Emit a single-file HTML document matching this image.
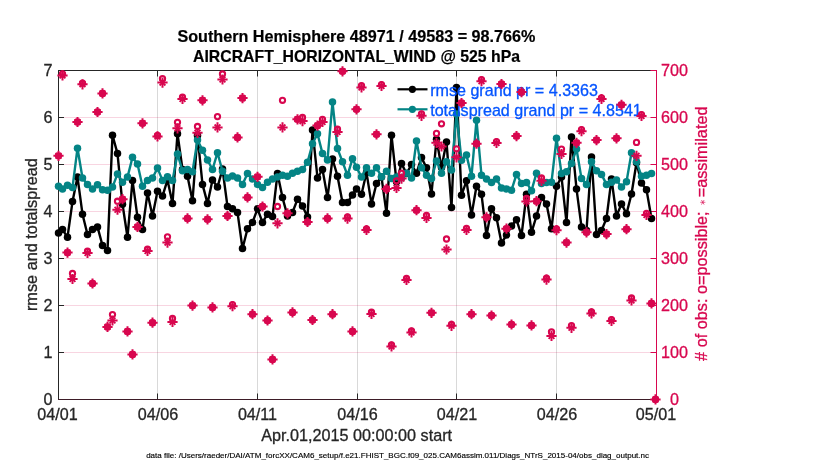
<!DOCTYPE html><html><head><meta charset="utf-8"><title>plot</title>
<style>html,body{margin:0;padding:0;background:#fff}svg{display:block;will-change:transform}text{font-family:"Liberation Sans",sans-serif}</style></head><body>
<svg width="830" height="470" viewBox="0 0 830 470">
<rect width="830" height="470" fill="#fff"/>
<g stroke="#000" stroke-opacity="0.15" stroke-width="1">
<line x1="157.5" y1="70.5" x2="157.5" y2="399.5"/>
<line x1="257.5" y1="70.5" x2="257.5" y2="399.5"/>
<line x1="357.5" y1="70.5" x2="357.5" y2="399.5"/>
<line x1="456.5" y1="70.5" x2="456.5" y2="399.5"/>
<line x1="556.5" y1="70.5" x2="556.5" y2="399.5"/>
</g>
<g stroke="#d8074f" stroke-opacity="0.17" stroke-width="1">
<line x1="58.5" y1="352.5" x2="656.5" y2="352.5"/>
<line x1="58.5" y1="305.5" x2="656.5" y2="305.5"/>
<line x1="58.5" y1="258.5" x2="656.5" y2="258.5"/>
<line x1="58.5" y1="211.5" x2="656.5" y2="211.5"/>
<line x1="58.5" y1="164.5" x2="656.5" y2="164.5"/>
<line x1="58.5" y1="117.5" x2="656.5" y2="117.5"/>
</g>
<g stroke="#262626" stroke-width="1" fill="none">
<line x1="58.5" y1="70.0" x2="58.5" y2="400.0"/>
<line x1="58.0" y1="70.5" x2="657.0" y2="70.5"/>
<line x1="58.5" y1="399.5" x2="64.0" y2="399.5"/>
<line x1="58.5" y1="352.5" x2="64.0" y2="352.5"/>
<line x1="58.5" y1="305.5" x2="64.0" y2="305.5"/>
<line x1="58.5" y1="258.5" x2="64.0" y2="258.5"/>
<line x1="58.5" y1="211.5" x2="64.0" y2="211.5"/>
<line x1="58.5" y1="164.5" x2="64.0" y2="164.5"/>
<line x1="58.5" y1="117.5" x2="64.0" y2="117.5"/>
<line x1="58.5" y1="70.5" x2="64.0" y2="70.5"/>
<line x1="157.5" y1="399.5" x2="157.5" y2="393.5"/>
<line x1="157.5" y1="70.5" x2="157.5" y2="76.5"/>
<line x1="257.5" y1="399.5" x2="257.5" y2="393.5"/>
<line x1="257.5" y1="70.5" x2="257.5" y2="76.5"/>
<line x1="357.5" y1="399.5" x2="357.5" y2="393.5"/>
<line x1="357.5" y1="70.5" x2="357.5" y2="76.5"/>
<line x1="456.5" y1="399.5" x2="456.5" y2="393.5"/>
<line x1="456.5" y1="70.5" x2="456.5" y2="76.5"/>
<line x1="556.5" y1="399.5" x2="556.5" y2="393.5"/>
<line x1="556.5" y1="70.5" x2="556.5" y2="76.5"/>
</g>
<line x1="58.0" y1="399.5" x2="657.0" y2="399.5" stroke="#3d1b27" stroke-width="1"/>
<g stroke="#d8074f" stroke-width="1">
<line x1="656.5" y1="70.0" x2="656.5" y2="400.0"/>
<line x1="656.5" y1="399.5" x2="650.5" y2="399.5"/>
<line x1="656.5" y1="352.5" x2="650.5" y2="352.5"/>
<line x1="656.5" y1="305.5" x2="650.5" y2="305.5"/>
<line x1="656.5" y1="258.5" x2="650.5" y2="258.5"/>
<line x1="656.5" y1="211.5" x2="650.5" y2="211.5"/>
<line x1="656.5" y1="164.5" x2="650.5" y2="164.5"/>
<line x1="656.5" y1="117.5" x2="650.5" y2="117.5"/>
<line x1="656.5" y1="70.5" x2="650.5" y2="70.5"/>
</g>
<g font-size="16.15" fill="#262626" stroke="#262626" stroke-width="0.3" text-anchor="end">
<text x="52.6" y="405.2">0</text>
<text x="52.6" y="358.2">1</text>
<text x="52.6" y="311.2">2</text>
<text x="52.6" y="264.2">3</text>
<text x="52.6" y="217.2">4</text>
<text x="52.6" y="170.2">5</text>
<text x="52.6" y="123.2">6</text>
<text x="52.6" y="76.2">7</text>
</g>
<g font-size="16.15" fill="#262626" stroke="#262626" stroke-width="0.3" text-anchor="middle">
<text x="57.5" y="420">04/01</text>
<text x="158" y="420">04/06</text>
<text x="257.5" y="420">04/11</text>
<text x="357.5" y="420">04/16</text>
<text x="457" y="420">04/21</text>
<text x="557" y="420">04/26</text>
<text x="656" y="420">05/01</text>
</g>
<g font-size="16.15" fill="#d8074f" stroke="#d8074f" stroke-width="0.3" text-anchor="middle">
<text x="674.5" y="405.2">0</text>
<text x="674.5" y="358.2">100</text>
<text x="674.5" y="311.2">200</text>
<text x="674.5" y="264.2">300</text>
<text x="674.5" y="217.2">400</text>
<text x="674.5" y="170.2">500</text>
<text x="674.5" y="123.2">600</text>
<text x="674.5" y="76.2">700</text>
</g>
<g font-size="16.1" font-weight="bold" fill="#000" stroke="#000" stroke-width="0.2" text-anchor="middle">
<text x="356.4" y="41.6" font-size="16.16">Southern Hemisphere 48971 / 49583 = 98.766%</text>
<text x="356.5" y="61.5" font-size="15.82">AIRCRAFT_HORIZONTAL_WIND @ 525 hPa</text>
</g>
<text font-size="16.3" fill="#262626" stroke="#262626" stroke-width="0.3" text-anchor="middle" transform="translate(36.6,234.6) rotate(-90)">rmse and totalspread</text>
<text font-size="16.2" fill="#262626" stroke="#262626" stroke-width="0.3" text-anchor="middle" x="356.7" y="440.7">Apr.01,2015 00:00:00 start</text>
<text font-size="8.03" fill="#000" stroke="#000" stroke-width="0.15" text-anchor="middle" x="397.6" y="457.8">data file: /Users/raeder/DAI/ATM_forcXX/CAM6_setup/f.e21.FHIST_BGC.f09_025.CAM6assim.011/Diags_NTrS_2015-04/obs_diag_output.nc</text>
<g transform="translate(707,360.9) rotate(-90)" fill="#d8074f" font-size="16.26">
<text id="rl1" x="0" y="0" xml:space="preserve" stroke="#d8074f" stroke-width="0.3"># of obs: o=possible; </text>
<g id="rlast" transform="translate(158.6,-4.2)" stroke="#d8074f" stroke-width="0.8" stroke-opacity="0.75"><line x1="-2.6" y1="0" x2="2.6" y2="0" transform="rotate(90)"/><line x1="-2.6" y1="0" x2="2.6" y2="0" transform="rotate(30)"/><line x1="-2.6" y1="0" x2="2.6" y2="0" transform="rotate(-30)"/></g>
<text id="rl2" x="163.6" y="0" stroke="#d8074f" stroke-width="0.3">=assimilated</text>
</g>
<polyline points="58.5,233.0 62.5,229.6 67.5,237.2 72.5,201.6 77.5,177.1 82.5,214.2 87.5,234.5 92.5,229.6 97.5,226.9 102.5,245.5 107.5,250.4 112.5,135.2 117.5,153.6 122.5,204.3 127.5,237.2 132.5,180.4 137.5,217.3 142.5,229.6 147.5,193.1 152.5,216.0 157.5,191.3 162.5,196.1 167.5,179.9 172.5,203.4 177.5,133.7 182.5,169.5 187.5,176.2 192.5,200.7 197.5,135.5 202.5,184.4 207.5,203.4 212.5,179.9 217.5,187.1 222.5,169.0 227.5,206.6 232.5,208.8 237.5,212.4 242.5,248.6 247.5,228.7 252.5,222.4 257.5,208.8 262.5,222.4 267.5,214.2 272.5,216.6 277.5,173.5 282.5,197.6 287.5,216.0 292.5,212.4 297.5,199.2 302.5,206.1 307.5,216.9 312.5,130.1 317.5,178.0 322.5,169.5 327.5,197.4 332.5,159.0 337.5,176.2 342.5,202.5 347.5,202.5 352.5,194.9 356.5,188.9 361.5,194.3 366.5,172.6 371.5,203.9 376.5,183.5 381.5,177.1 386.5,213.3 391.5,135.2 396.5,181.7 401.5,163.6 406.5,173.5 411.5,164.5 416.5,173.2 421.5,157.6 426.5,167.7 431.5,194.0 436.5,139.2 441.5,167.5 446.5,141.9 451.5,207.5 456.5,87.6 461.5,195.2 466.5,180.8 471.5,215.1 476.5,186.2 481.5,194.3 486.5,235.5 491.5,208.8 496.5,217.8 501.5,243.1 506.5,235.0 511.5,226.0 516.5,219.7 521.5,235.5 526.5,194.3 531.5,232.3 536.5,216.0 541.5,197.4 546.5,203.9 551.5,228.7 556.5,186.2 561.5,177.0 566.5,222.4 571.5,137.0 576.5,188.9 581.5,226.9 586.5,230.5 591.5,156.9 596.5,234.5 601.5,230.5 606.5,218.4 611.5,178.9 616.5,216.0 621.5,203.9 626.5,213.7 631.5,194.0 636.5,162.7 641.5,183.1 646.5,189.8 651.5,218.4" fill="none" stroke="#000000" stroke-width="2.4" stroke-linejoin="round"/><g fill="#000000"><circle cx="58.5" cy="233.0" r="3.75"/><circle cx="62.5" cy="229.6" r="3.75"/><circle cx="67.5" cy="237.2" r="3.75"/><circle cx="72.5" cy="201.6" r="3.75"/><circle cx="77.5" cy="177.1" r="3.75"/><circle cx="82.5" cy="214.2" r="3.75"/><circle cx="87.5" cy="234.5" r="3.75"/><circle cx="92.5" cy="229.6" r="3.75"/><circle cx="97.5" cy="226.9" r="3.75"/><circle cx="102.5" cy="245.5" r="3.75"/><circle cx="107.5" cy="250.4" r="3.75"/><circle cx="112.5" cy="135.2" r="3.75"/><circle cx="117.5" cy="153.6" r="3.75"/><circle cx="122.5" cy="204.3" r="3.75"/><circle cx="127.5" cy="237.2" r="3.75"/><circle cx="132.5" cy="180.4" r="3.75"/><circle cx="137.5" cy="217.3" r="3.75"/><circle cx="142.5" cy="229.6" r="3.75"/><circle cx="147.5" cy="193.1" r="3.75"/><circle cx="152.5" cy="216.0" r="3.75"/><circle cx="157.5" cy="191.3" r="3.75"/><circle cx="162.5" cy="196.1" r="3.75"/><circle cx="167.5" cy="179.9" r="3.75"/><circle cx="172.5" cy="203.4" r="3.75"/><circle cx="177.5" cy="133.7" r="3.75"/><circle cx="182.5" cy="169.5" r="3.75"/><circle cx="187.5" cy="176.2" r="3.75"/><circle cx="192.5" cy="200.7" r="3.75"/><circle cx="197.5" cy="135.5" r="3.75"/><circle cx="202.5" cy="184.4" r="3.75"/><circle cx="207.5" cy="203.4" r="3.75"/><circle cx="212.5" cy="179.9" r="3.75"/><circle cx="217.5" cy="187.1" r="3.75"/><circle cx="222.5" cy="169.0" r="3.75"/><circle cx="227.5" cy="206.6" r="3.75"/><circle cx="232.5" cy="208.8" r="3.75"/><circle cx="237.5" cy="212.4" r="3.75"/><circle cx="242.5" cy="248.6" r="3.75"/><circle cx="247.5" cy="228.7" r="3.75"/><circle cx="252.5" cy="222.4" r="3.75"/><circle cx="257.5" cy="208.8" r="3.75"/><circle cx="262.5" cy="222.4" r="3.75"/><circle cx="267.5" cy="214.2" r="3.75"/><circle cx="272.5" cy="216.6" r="3.75"/><circle cx="277.5" cy="173.5" r="3.75"/><circle cx="282.5" cy="197.6" r="3.75"/><circle cx="287.5" cy="216.0" r="3.75"/><circle cx="292.5" cy="212.4" r="3.75"/><circle cx="297.5" cy="199.2" r="3.75"/><circle cx="302.5" cy="206.1" r="3.75"/><circle cx="307.5" cy="216.9" r="3.75"/><circle cx="312.5" cy="130.1" r="3.75"/><circle cx="317.5" cy="178.0" r="3.75"/><circle cx="322.5" cy="169.5" r="3.75"/><circle cx="327.5" cy="197.4" r="3.75"/><circle cx="332.5" cy="159.0" r="3.75"/><circle cx="337.5" cy="176.2" r="3.75"/><circle cx="342.5" cy="202.5" r="3.75"/><circle cx="347.5" cy="202.5" r="3.75"/><circle cx="352.5" cy="194.9" r="3.75"/><circle cx="356.5" cy="188.9" r="3.75"/><circle cx="361.5" cy="194.3" r="3.75"/><circle cx="366.5" cy="172.6" r="3.75"/><circle cx="371.5" cy="203.9" r="3.75"/><circle cx="376.5" cy="183.5" r="3.75"/><circle cx="381.5" cy="177.1" r="3.75"/><circle cx="386.5" cy="213.3" r="3.75"/><circle cx="391.5" cy="135.2" r="3.75"/><circle cx="396.5" cy="181.7" r="3.75"/><circle cx="401.5" cy="163.6" r="3.75"/><circle cx="406.5" cy="173.5" r="3.75"/><circle cx="411.5" cy="164.5" r="3.75"/><circle cx="416.5" cy="173.2" r="3.75"/><circle cx="421.5" cy="157.6" r="3.75"/><circle cx="426.5" cy="167.7" r="3.75"/><circle cx="431.5" cy="194.0" r="3.75"/><circle cx="436.5" cy="139.2" r="3.75"/><circle cx="441.5" cy="167.5" r="3.75"/><circle cx="446.5" cy="141.9" r="3.75"/><circle cx="451.5" cy="207.5" r="3.75"/><circle cx="456.5" cy="87.6" r="3.75"/><circle cx="461.5" cy="195.2" r="3.75"/><circle cx="466.5" cy="180.8" r="3.75"/><circle cx="471.5" cy="215.1" r="3.75"/><circle cx="476.5" cy="186.2" r="3.75"/><circle cx="481.5" cy="194.3" r="3.75"/><circle cx="486.5" cy="235.5" r="3.75"/><circle cx="491.5" cy="208.8" r="3.75"/><circle cx="496.5" cy="217.8" r="3.75"/><circle cx="501.5" cy="243.1" r="3.75"/><circle cx="506.5" cy="235.0" r="3.75"/><circle cx="511.5" cy="226.0" r="3.75"/><circle cx="516.5" cy="219.7" r="3.75"/><circle cx="521.5" cy="235.5" r="3.75"/><circle cx="526.5" cy="194.3" r="3.75"/><circle cx="531.5" cy="232.3" r="3.75"/><circle cx="536.5" cy="216.0" r="3.75"/><circle cx="541.5" cy="197.4" r="3.75"/><circle cx="546.5" cy="203.9" r="3.75"/><circle cx="551.5" cy="228.7" r="3.75"/><circle cx="556.5" cy="186.2" r="3.75"/><circle cx="561.5" cy="177.0" r="3.75"/><circle cx="566.5" cy="222.4" r="3.75"/><circle cx="571.5" cy="137.0" r="3.75"/><circle cx="576.5" cy="188.9" r="3.75"/><circle cx="581.5" cy="226.9" r="3.75"/><circle cx="586.5" cy="230.5" r="3.75"/><circle cx="591.5" cy="156.9" r="3.75"/><circle cx="596.5" cy="234.5" r="3.75"/><circle cx="601.5" cy="230.5" r="3.75"/><circle cx="606.5" cy="218.4" r="3.75"/><circle cx="611.5" cy="178.9" r="3.75"/><circle cx="616.5" cy="216.0" r="3.75"/><circle cx="621.5" cy="203.9" r="3.75"/><circle cx="626.5" cy="213.7" r="3.75"/><circle cx="631.5" cy="194.0" r="3.75"/><circle cx="636.5" cy="162.7" r="3.75"/><circle cx="641.5" cy="183.1" r="3.75"/><circle cx="646.5" cy="189.8" r="3.75"/><circle cx="651.5" cy="218.4" r="3.75"/></g>
<polyline points="58.5,186.2 62.5,188.9 67.5,185.3 72.5,187.5 77.5,148.2 82.5,178.0 87.5,184.4 92.5,188.9 97.5,184.7 102.5,189.8 107.5,190.2 112.5,187.1 117.5,173.9 122.5,182.2 127.5,177.1 132.5,157.2 137.5,164.1 142.5,186.2 147.5,180.4 152.5,178.0 157.5,168.1 162.5,180.4 167.5,176.8 172.5,180.4 177.5,154.0 182.5,170.8 187.5,169.5 192.5,171.7 197.5,140.0 202.5,150.2 207.5,160.0 212.5,169.5 217.5,152.7 222.5,171.3 227.5,178.0 232.5,175.9 237.5,178.0 242.5,184.4 247.5,173.5 252.5,178.9 257.5,184.4 262.5,187.6 267.5,182.2 272.5,178.9 277.5,177.1 282.5,175.3 287.5,176.2 292.5,173.2 297.5,171.3 302.5,169.5 307.5,162.3 312.5,143.7 317.5,133.8 322.5,153.6 327.5,160.0 332.5,102.1 337.5,148.6 342.5,161.8 347.5,175.3 352.5,158.7 356.5,167.2 361.5,177.1 366.5,167.7 371.5,173.2 376.5,167.7 381.5,176.8 386.5,171.3 391.5,178.6 396.5,177.1 401.5,177.8 406.5,173.2 411.5,178.0 416.5,141.0 421.5,167.7 426.5,175.3 431.5,178.6 436.5,160.9 441.5,173.2 446.5,161.8 451.5,169.9 456.5,114.0 461.5,160.2 466.5,155.1 471.5,176.2 476.5,120.2 481.5,175.3 486.5,178.9 491.5,182.6 496.5,178.9 501.5,188.0 506.5,188.9 511.5,190.2 516.5,174.4 521.5,183.5 526.5,182.6 531.5,190.7 536.5,173.2 541.5,183.5 546.5,182.6 551.5,182.2 556.5,138.3 561.5,173.5 566.5,171.7 571.5,163.6 576.5,149.0 581.5,178.6 586.5,184.4 591.5,161.8 596.5,170.8 601.5,174.4 606.5,184.4 611.5,182.2 616.5,179.9 621.5,187.1 626.5,181.7 631.5,152.7 636.5,161.8 641.5,176.2 646.5,175.3 651.5,173.5" fill="none" stroke="#048485" stroke-width="2.4" stroke-linejoin="round"/><g fill="#048485"><circle cx="58.5" cy="186.2" r="3.75"/><circle cx="62.5" cy="188.9" r="3.75"/><circle cx="67.5" cy="185.3" r="3.75"/><circle cx="72.5" cy="187.5" r="3.75"/><circle cx="77.5" cy="148.2" r="3.75"/><circle cx="82.5" cy="178.0" r="3.75"/><circle cx="87.5" cy="184.4" r="3.75"/><circle cx="92.5" cy="188.9" r="3.75"/><circle cx="97.5" cy="184.7" r="3.75"/><circle cx="102.5" cy="189.8" r="3.75"/><circle cx="107.5" cy="190.2" r="3.75"/><circle cx="112.5" cy="187.1" r="3.75"/><circle cx="117.5" cy="173.9" r="3.75"/><circle cx="122.5" cy="182.2" r="3.75"/><circle cx="127.5" cy="177.1" r="3.75"/><circle cx="132.5" cy="157.2" r="3.75"/><circle cx="137.5" cy="164.1" r="3.75"/><circle cx="142.5" cy="186.2" r="3.75"/><circle cx="147.5" cy="180.4" r="3.75"/><circle cx="152.5" cy="178.0" r="3.75"/><circle cx="157.5" cy="168.1" r="3.75"/><circle cx="162.5" cy="180.4" r="3.75"/><circle cx="167.5" cy="176.8" r="3.75"/><circle cx="172.5" cy="180.4" r="3.75"/><circle cx="177.5" cy="154.0" r="3.75"/><circle cx="182.5" cy="170.8" r="3.75"/><circle cx="187.5" cy="169.5" r="3.75"/><circle cx="192.5" cy="171.7" r="3.75"/><circle cx="197.5" cy="140.0" r="3.75"/><circle cx="202.5" cy="150.2" r="3.75"/><circle cx="207.5" cy="160.0" r="3.75"/><circle cx="212.5" cy="169.5" r="3.75"/><circle cx="217.5" cy="152.7" r="3.75"/><circle cx="222.5" cy="171.3" r="3.75"/><circle cx="227.5" cy="178.0" r="3.75"/><circle cx="232.5" cy="175.9" r="3.75"/><circle cx="237.5" cy="178.0" r="3.75"/><circle cx="242.5" cy="184.4" r="3.75"/><circle cx="247.5" cy="173.5" r="3.75"/><circle cx="252.5" cy="178.9" r="3.75"/><circle cx="257.5" cy="184.4" r="3.75"/><circle cx="262.5" cy="187.6" r="3.75"/><circle cx="267.5" cy="182.2" r="3.75"/><circle cx="272.5" cy="178.9" r="3.75"/><circle cx="277.5" cy="177.1" r="3.75"/><circle cx="282.5" cy="175.3" r="3.75"/><circle cx="287.5" cy="176.2" r="3.75"/><circle cx="292.5" cy="173.2" r="3.75"/><circle cx="297.5" cy="171.3" r="3.75"/><circle cx="302.5" cy="169.5" r="3.75"/><circle cx="307.5" cy="162.3" r="3.75"/><circle cx="312.5" cy="143.7" r="3.75"/><circle cx="317.5" cy="133.8" r="3.75"/><circle cx="322.5" cy="153.6" r="3.75"/><circle cx="327.5" cy="160.0" r="3.75"/><circle cx="332.5" cy="102.1" r="3.75"/><circle cx="337.5" cy="148.6" r="3.75"/><circle cx="342.5" cy="161.8" r="3.75"/><circle cx="347.5" cy="175.3" r="3.75"/><circle cx="352.5" cy="158.7" r="3.75"/><circle cx="356.5" cy="167.2" r="3.75"/><circle cx="361.5" cy="177.1" r="3.75"/><circle cx="366.5" cy="167.7" r="3.75"/><circle cx="371.5" cy="173.2" r="3.75"/><circle cx="376.5" cy="167.7" r="3.75"/><circle cx="381.5" cy="176.8" r="3.75"/><circle cx="386.5" cy="171.3" r="3.75"/><circle cx="391.5" cy="178.6" r="3.75"/><circle cx="396.5" cy="177.1" r="3.75"/><circle cx="401.5" cy="177.8" r="3.75"/><circle cx="406.5" cy="173.2" r="3.75"/><circle cx="411.5" cy="178.0" r="3.75"/><circle cx="416.5" cy="141.0" r="3.75"/><circle cx="421.5" cy="167.7" r="3.75"/><circle cx="426.5" cy="175.3" r="3.75"/><circle cx="431.5" cy="178.6" r="3.75"/><circle cx="436.5" cy="160.9" r="3.75"/><circle cx="441.5" cy="173.2" r="3.75"/><circle cx="446.5" cy="161.8" r="3.75"/><circle cx="451.5" cy="169.9" r="3.75"/><circle cx="456.5" cy="114.0" r="3.75"/><circle cx="461.5" cy="160.2" r="3.75"/><circle cx="466.5" cy="155.1" r="3.75"/><circle cx="471.5" cy="176.2" r="3.75"/><circle cx="476.5" cy="120.2" r="3.75"/><circle cx="481.5" cy="175.3" r="3.75"/><circle cx="486.5" cy="178.9" r="3.75"/><circle cx="491.5" cy="182.6" r="3.75"/><circle cx="496.5" cy="178.9" r="3.75"/><circle cx="501.5" cy="188.0" r="3.75"/><circle cx="506.5" cy="188.9" r="3.75"/><circle cx="511.5" cy="190.2" r="3.75"/><circle cx="516.5" cy="174.4" r="3.75"/><circle cx="521.5" cy="183.5" r="3.75"/><circle cx="526.5" cy="182.6" r="3.75"/><circle cx="531.5" cy="190.7" r="3.75"/><circle cx="536.5" cy="173.2" r="3.75"/><circle cx="541.5" cy="183.5" r="3.75"/><circle cx="546.5" cy="182.6" r="3.75"/><circle cx="551.5" cy="182.2" r="3.75"/><circle cx="556.5" cy="138.3" r="3.75"/><circle cx="561.5" cy="173.5" r="3.75"/><circle cx="566.5" cy="171.7" r="3.75"/><circle cx="571.5" cy="163.6" r="3.75"/><circle cx="576.5" cy="149.0" r="3.75"/><circle cx="581.5" cy="178.6" r="3.75"/><circle cx="586.5" cy="184.4" r="3.75"/><circle cx="591.5" cy="161.8" r="3.75"/><circle cx="596.5" cy="170.8" r="3.75"/><circle cx="601.5" cy="174.4" r="3.75"/><circle cx="606.5" cy="184.4" r="3.75"/><circle cx="611.5" cy="182.2" r="3.75"/><circle cx="616.5" cy="179.9" r="3.75"/><circle cx="621.5" cy="187.1" r="3.75"/><circle cx="626.5" cy="181.7" r="3.75"/><circle cx="631.5" cy="152.7" r="3.75"/><circle cx="636.5" cy="161.8" r="3.75"/><circle cx="641.5" cy="176.2" r="3.75"/><circle cx="646.5" cy="175.3" r="3.75"/><circle cx="651.5" cy="173.5" r="3.75"/></g>
<line x1="397.5" y1="89.3" x2="427.5" y2="89.3" stroke="#000000" stroke-width="2.2"/><circle cx="412.4" cy="89.3" r="3.6" fill="#000000"/>
<line x1="397.5" y1="109.3" x2="427.5" y2="109.3" stroke="#048485" stroke-width="2.2"/><circle cx="412.4" cy="109.3" r="3.6" fill="#048485"/>
<g font-size="16.1" fill="#0554ff" stroke="#0554ff" stroke-width="0.3"><text x="430.2" y="95.9">rmse grand pr = 4.3363</text><text x="430.2" y="115.8">totalspread grand pr = 4.8541</text></g>
<g fill="none" stroke="#d8074f" stroke-width="2.1">
<circle cx="58.5" cy="155.8" r="2.6"/>
<circle cx="62.5" cy="73.9" r="2.6"/>
<circle cx="67.5" cy="252.6" r="2.6"/>
<circle cx="72.5" cy="273.5" r="2.6"/>
<circle cx="77.5" cy="122.0" r="2.6"/>
<circle cx="82.5" cy="83.2" r="2.6"/>
<circle cx="87.5" cy="251.2" r="2.6"/>
<circle cx="92.5" cy="283.5" r="2.6"/>
<circle cx="97.5" cy="112.0" r="2.6"/>
<circle cx="102.5" cy="93.4" r="2.6"/>
<circle cx="107.5" cy="326.9" r="2.6"/>
<circle cx="112.5" cy="314.6" r="2.6"/>
<circle cx="117.5" cy="201.2" r="2.6"/>
<circle cx="122.5" cy="199.2" r="2.6"/>
<circle cx="127.5" cy="331.4" r="2.6"/>
<circle cx="132.5" cy="354.4" r="2.6"/>
<circle cx="137.5" cy="226.9" r="2.6"/>
<circle cx="142.5" cy="123.3" r="2.6"/>
<circle cx="147.5" cy="249.2" r="2.6"/>
<circle cx="152.5" cy="322.7" r="2.6"/>
<circle cx="157.5" cy="135.4" r="2.6"/>
<circle cx="162.5" cy="78.6" r="2.6"/>
<circle cx="167.5" cy="236.8" r="2.6"/>
<circle cx="172.5" cy="318.5" r="2.6"/>
<circle cx="177.5" cy="122.3" r="2.6"/>
<circle cx="182.5" cy="97.2" r="2.6"/>
<circle cx="187.5" cy="218.4" r="2.6"/>
<circle cx="192.5" cy="305.6" r="2.6"/>
<circle cx="197.5" cy="126.5" r="2.6"/>
<circle cx="202.5" cy="100.3" r="2.6"/>
<circle cx="207.5" cy="219.3" r="2.6"/>
<circle cx="212.5" cy="307.4" r="2.6"/>
<circle cx="217.5" cy="116.6" r="2.6"/>
<circle cx="222.5" cy="74.0" r="2.6"/>
<circle cx="227.5" cy="216.0" r="2.6"/>
<circle cx="232.5" cy="304.6" r="2.6"/>
<circle cx="237.5" cy="137.4" r="2.6"/>
<circle cx="242.5" cy="98.1" r="2.6"/>
<circle cx="247.5" cy="197.4" r="2.6"/>
<circle cx="252.5" cy="314.2" r="2.6"/>
<circle cx="257.5" cy="176.8" r="2.6"/>
<circle cx="262.5" cy="206.5" r="2.6"/>
<circle cx="267.5" cy="320.5" r="2.6"/>
<circle cx="272.5" cy="359.4" r="2.6"/>
<circle cx="277.5" cy="206.5" r="2.6"/>
<circle cx="282.5" cy="100.3" r="2.6"/>
<circle cx="287.5" cy="213.3" r="2.6"/>
<circle cx="292.5" cy="312.4" r="2.6"/>
<circle cx="297.5" cy="119.3" r="2.6"/>
<circle cx="302.5" cy="117.5" r="2.6"/>
<circle cx="307.5" cy="222.0" r="2.6"/>
<circle cx="312.5" cy="320.0" r="2.6"/>
<circle cx="317.5" cy="125.6" r="2.6"/>
<circle cx="322.5" cy="119.3" r="2.6"/>
<circle cx="327.5" cy="218.4" r="2.6"/>
<circle cx="332.5" cy="314.2" r="2.6"/>
<circle cx="337.5" cy="129.2" r="2.6"/>
<circle cx="342.5" cy="71.3" r="2.6"/>
<circle cx="347.5" cy="217.0" r="2.6"/>
<circle cx="352.5" cy="331.4" r="2.6"/>
<circle cx="356.5" cy="109.3" r="2.6"/>
<circle cx="361.5" cy="85.7" r="2.6"/>
<circle cx="366.5" cy="229.0" r="2.6"/>
<circle cx="371.5" cy="312.2" r="2.6"/>
<circle cx="376.5" cy="134.3" r="2.6"/>
<circle cx="381.5" cy="84.6" r="2.6"/>
<circle cx="386.5" cy="188.9" r="2.6"/>
<circle cx="391.5" cy="345.0" r="2.6"/>
<circle cx="396.5" cy="180.8" r="2.6"/>
<circle cx="401.5" cy="173.2" r="2.6"/>
<circle cx="406.5" cy="278.5" r="2.6"/>
<circle cx="411.5" cy="331.0" r="2.6"/>
<circle cx="416.5" cy="210.2" r="2.6"/>
<circle cx="421.5" cy="113.8" r="2.6"/>
<circle cx="426.5" cy="215.5" r="2.6"/>
<circle cx="431.5" cy="312.8" r="2.6"/>
<circle cx="436.5" cy="133.4" r="2.6"/>
<circle cx="441.5" cy="123.8" r="2.6"/>
<circle cx="446.5" cy="239.0" r="2.6"/>
<circle cx="451.5" cy="324.4" r="2.6"/>
<circle cx="456.5" cy="148.8" r="2.6"/>
<circle cx="461.5" cy="103.0" r="2.6"/>
<circle cx="466.5" cy="228.4" r="2.6"/>
<circle cx="471.5" cy="314.2" r="2.6"/>
<circle cx="476.5" cy="143.7" r="2.6"/>
<circle cx="481.5" cy="79.6" r="2.6"/>
<circle cx="486.5" cy="217.3" r="2.6"/>
<circle cx="491.5" cy="315.5" r="2.6"/>
<circle cx="496.5" cy="141.6" r="2.6"/>
<circle cx="501.5" cy="84.0" r="2.6"/>
<circle cx="506.5" cy="228.7" r="2.6"/>
<circle cx="511.5" cy="324.5" r="2.6"/>
<circle cx="516.5" cy="136.1" r="2.6"/>
<circle cx="521.5" cy="92.1" r="2.6"/>
<circle cx="526.5" cy="198.5" r="2.6"/>
<circle cx="531.5" cy="325.4" r="2.6"/>
<circle cx="536.5" cy="201.2" r="2.6"/>
<circle cx="541.5" cy="178.0" r="2.6"/>
<circle cx="546.5" cy="278.2" r="2.6"/>
<circle cx="551.5" cy="331.8" r="2.6"/>
<circle cx="556.5" cy="229.0" r="2.6"/>
<circle cx="561.5" cy="149.1" r="2.6"/>
<circle cx="566.5" cy="242.6" r="2.6"/>
<circle cx="571.5" cy="325.6" r="2.6"/>
<circle cx="576.5" cy="142.8" r="2.6"/>
<circle cx="581.5" cy="129.6" r="2.6"/>
<circle cx="586.5" cy="232.3" r="2.6"/>
<circle cx="591.5" cy="312.0" r="2.6"/>
<circle cx="596.5" cy="140.1" r="2.6"/>
<circle cx="601.5" cy="97.8" r="2.6"/>
<circle cx="606.5" cy="234.1" r="2.6"/>
<circle cx="611.5" cy="319.6" r="2.6"/>
<circle cx="616.5" cy="138.3" r="2.6"/>
<circle cx="621.5" cy="104.8" r="2.6"/>
<circle cx="626.5" cy="229.2" r="2.6"/>
<circle cx="631.5" cy="298.0" r="2.6"/>
<circle cx="636.5" cy="142.4" r="2.6"/>
<circle cx="641.5" cy="114.6" r="2.6"/>
<circle cx="646.5" cy="213.4" r="2.6"/>
<circle cx="651.5" cy="303.4" r="2.6"/>
<circle cx="655.5" cy="399.4" r="2.6"/>
</g>
<path d="M53.4 155.8h10.2M58.5 150.7v10.2M57.4 75.4h10.2M62.5 70.3v10.2M62.4 252.6h10.2M67.5 247.5v10.2M67.4 279.0h10.2M72.5 273.9v10.2M72.4 122.0h10.2M77.5 116.9v10.2M77.4 84.3h10.2M82.5 79.2v10.2M82.4 253.0h10.2M87.5 247.9v10.2M87.4 283.5h10.2M92.5 278.4v10.2M92.4 112.0h10.2M97.5 106.9v10.2M97.4 93.4h10.2M102.5 88.3v10.2M102.4 326.9h10.2M107.5 321.8v10.2M107.4 320.5h10.2M112.5 315.4v10.2M112.4 209.7h10.2M117.5 204.6v10.2M117.4 199.2h10.2M122.5 194.1v10.2M122.4 331.4h10.2M127.5 326.3v10.2M127.4 354.4h10.2M132.5 349.3v10.2M132.4 226.9h10.2M137.5 221.8v10.2M137.4 123.3h10.2M142.5 118.2v10.2M142.4 251.0h10.2M147.5 245.9v10.2M147.4 322.7h10.2M152.5 317.6v10.2M152.4 136.4h10.2M157.5 131.3v10.2M157.4 82.6h10.2M162.5 77.5v10.2M162.4 242.6h10.2M167.5 237.5v10.2M167.4 322.0h10.2M172.5 316.9v10.2M172.4 128.3h10.2M177.5 123.2v10.2M177.4 99.0h10.2M182.5 93.9v10.2M182.4 218.4h10.2M187.5 213.3v10.2M187.4 305.6h10.2M192.5 300.5v10.2M192.4 132.8h10.2M197.5 127.7v10.2M197.4 100.3h10.2M202.5 95.2v10.2M202.4 219.3h10.2M207.5 214.2v10.2M207.4 307.4h10.2M212.5 302.3v10.2M212.4 127.4h10.2M217.5 122.3v10.2M217.4 79.5h10.2M222.5 74.4v10.2M222.4 216.0h10.2M227.5 210.9v10.2M227.4 306.2h10.2M232.5 301.1v10.2M232.4 137.4h10.2M237.5 132.3v10.2M237.4 98.1h10.2M242.5 93.0v10.2M242.4 197.4h10.2M247.5 192.3v10.2M247.4 314.2h10.2M252.5 309.1v10.2M252.4 176.8h10.2M257.5 171.7v10.2M257.4 206.5h10.2M262.5 201.4v10.2M262.4 320.5h10.2M267.5 315.4v10.2M267.4 359.4h10.2M272.5 354.3v10.2M272.4 223.3h10.2M277.5 218.2v10.2M277.4 127.4h10.2M282.5 122.3v10.2M282.4 213.3h10.2M287.5 208.2v10.2M287.4 312.4h10.2M292.5 307.3v10.2M292.4 119.3h10.2M297.5 114.2v10.2M297.4 121.1h10.2M302.5 116.0v10.2M302.4 222.0h10.2M307.5 216.9v10.2M307.4 320.0h10.2M312.5 314.9v10.2M312.4 125.6h10.2M317.5 120.5v10.2M317.4 122.0h10.2M322.5 116.9v10.2M322.4 218.4h10.2M327.5 213.3v10.2M327.4 314.2h10.2M332.5 309.1v10.2M332.4 132.0h10.2M337.5 126.9v10.2M337.4 71.3h10.2M342.5 66.2v10.2M342.4 218.6h10.2M347.5 213.5v10.2M347.4 331.4h10.2M352.5 326.3v10.2M351.4 109.3h10.2M356.5 104.2v10.2M356.4 87.5h10.2M361.5 82.4v10.2M361.4 230.0h10.2M366.5 224.9v10.2M366.4 314.0h10.2M371.5 308.9v10.2M371.4 134.3h10.2M376.5 129.2v10.2M376.4 86.0h10.2M381.5 80.9v10.2M381.4 188.9h10.2M386.5 183.8v10.2M386.4 346.5h10.2M391.5 341.4v10.2M391.4 188.0h10.2M396.5 182.9v10.2M396.4 178.6h10.2M401.5 173.5v10.2M401.4 280.0h10.2M406.5 274.9v10.2M406.4 332.5h10.2M411.5 327.4v10.2M411.4 210.2h10.2M416.5 205.1v10.2M416.4 115.8h10.2M421.5 110.7v10.2M421.4 218.0h10.2M426.5 212.9v10.2M426.4 312.8h10.2M431.5 307.7v10.2M431.4 142.8h10.2M436.5 137.7v10.2M436.4 146.5h10.2M441.5 141.4v10.2M441.4 249.5h10.2M446.5 244.4v10.2M446.4 325.8h10.2M451.5 320.7v10.2M451.4 157.3h10.2M456.5 152.2v10.2M456.4 103.0h10.2M461.5 97.9v10.2M461.4 230.0h10.2M466.5 224.9v10.2M466.4 314.2h10.2M471.5 309.1v10.2M471.4 143.7h10.2M476.5 138.6v10.2M476.4 81.2h10.2M481.5 76.1v10.2M481.4 217.3h10.2M486.5 212.2v10.2M486.4 315.5h10.2M491.5 310.4v10.2M491.4 143.0h10.2M496.5 137.9v10.2M496.4 84.0h10.2M501.5 78.9v10.2M501.4 228.7h10.2M506.5 223.6v10.2M506.4 324.5h10.2M511.5 319.4v10.2M511.4 136.1h10.2M516.5 131.0v10.2M516.4 92.1h10.2M521.5 87.0v10.2M521.4 201.5h10.2M526.5 196.4v10.2M526.4 325.4h10.2M531.5 320.3v10.2M531.4 201.2h10.2M536.5 196.1v10.2M536.4 180.8h10.2M541.5 175.7v10.2M541.4 279.6h10.2M546.5 274.5v10.2M546.4 335.9h10.2M551.5 330.8v10.2M551.4 230.2h10.2M556.5 225.1v10.2M556.4 154.0h10.2M561.5 148.9v10.2M561.4 242.6h10.2M566.5 237.5v10.2M566.4 327.8h10.2M571.5 322.7v10.2M571.4 142.8h10.2M576.5 137.7v10.2M576.4 131.2h10.2M581.5 126.1v10.2M581.4 232.3h10.2M586.5 227.2v10.2M586.4 313.4h10.2M591.5 308.3v10.2M591.4 140.1h10.2M596.5 135.0v10.2M596.4 99.0h10.2M601.5 93.9v10.2M601.4 234.1h10.2M606.5 229.0v10.2M606.4 321.0h10.2M611.5 315.9v10.2M611.4 138.3h10.2M616.5 133.2v10.2M616.4 104.8h10.2M621.5 99.7v10.2M621.4 229.2h10.2M626.5 224.1v10.2M626.4 300.4h10.2M631.5 295.3v10.2M631.4 155.8h10.2M636.5 150.7v10.2M636.4 116.0h10.2M641.5 110.9v10.2M641.4 215.0h10.2M646.5 209.9v10.2M646.4 303.4h10.2M651.5 298.3v10.2M650.4 399.4h10.2M655.5 394.3v10.2" fill="none" stroke="#d8074f" stroke-width="2"/>
<path d="M55.6 152.9l5.8 5.8M55.6 158.7l5.8 -5.8M59.6 72.5l5.8 5.8M59.6 78.3l5.8 -5.8M64.6 249.7l5.8 5.8M64.6 255.5l5.8 -5.8M69.6 276.1l5.8 5.8M69.6 281.9l5.8 -5.8M74.6 119.1l5.8 5.8M74.6 124.9l5.8 -5.8M79.6 81.4l5.8 5.8M79.6 87.2l5.8 -5.8M84.6 250.1l5.8 5.8M84.6 255.9l5.8 -5.8M89.6 280.6l5.8 5.8M89.6 286.4l5.8 -5.8M94.6 109.1l5.8 5.8M94.6 114.9l5.8 -5.8M99.6 90.5l5.8 5.8M99.6 96.3l5.8 -5.8M104.6 324.0l5.8 5.8M104.6 329.8l5.8 -5.8M109.6 317.6l5.8 5.8M109.6 323.4l5.8 -5.8M114.6 206.8l5.8 5.8M114.6 212.6l5.8 -5.8M119.6 196.3l5.8 5.8M119.6 202.1l5.8 -5.8M124.6 328.5l5.8 5.8M124.6 334.3l5.8 -5.8M129.6 351.5l5.8 5.8M129.6 357.3l5.8 -5.8M134.6 224.0l5.8 5.8M134.6 229.8l5.8 -5.8M139.6 120.4l5.8 5.8M139.6 126.2l5.8 -5.8M144.6 248.1l5.8 5.8M144.6 253.9l5.8 -5.8M149.6 319.8l5.8 5.8M149.6 325.6l5.8 -5.8M154.6 133.5l5.8 5.8M154.6 139.3l5.8 -5.8M159.6 79.7l5.8 5.8M159.6 85.5l5.8 -5.8M164.6 239.7l5.8 5.8M164.6 245.5l5.8 -5.8M169.6 319.1l5.8 5.8M169.6 324.9l5.8 -5.8M174.6 125.4l5.8 5.8M174.6 131.2l5.8 -5.8M179.6 96.1l5.8 5.8M179.6 101.9l5.8 -5.8M184.6 215.5l5.8 5.8M184.6 221.3l5.8 -5.8M189.6 302.7l5.8 5.8M189.6 308.5l5.8 -5.8M194.6 129.9l5.8 5.8M194.6 135.7l5.8 -5.8M199.6 97.4l5.8 5.8M199.6 103.2l5.8 -5.8M204.6 216.4l5.8 5.8M204.6 222.2l5.8 -5.8M209.6 304.5l5.8 5.8M209.6 310.3l5.8 -5.8M214.6 124.5l5.8 5.8M214.6 130.3l5.8 -5.8M219.6 76.6l5.8 5.8M219.6 82.4l5.8 -5.8M224.6 213.1l5.8 5.8M224.6 218.9l5.8 -5.8M229.6 303.3l5.8 5.8M229.6 309.1l5.8 -5.8M234.6 134.5l5.8 5.8M234.6 140.3l5.8 -5.8M239.6 95.2l5.8 5.8M239.6 101.0l5.8 -5.8M244.6 194.5l5.8 5.8M244.6 200.3l5.8 -5.8M249.6 311.3l5.8 5.8M249.6 317.1l5.8 -5.8M254.6 173.9l5.8 5.8M254.6 179.7l5.8 -5.8M259.6 203.6l5.8 5.8M259.6 209.4l5.8 -5.8M264.6 317.6l5.8 5.8M264.6 323.4l5.8 -5.8M269.6 356.5l5.8 5.8M269.6 362.3l5.8 -5.8M274.6 220.4l5.8 5.8M274.6 226.2l5.8 -5.8M279.6 124.5l5.8 5.8M279.6 130.3l5.8 -5.8M284.6 210.4l5.8 5.8M284.6 216.2l5.8 -5.8M289.6 309.5l5.8 5.8M289.6 315.3l5.8 -5.8M294.6 116.4l5.8 5.8M294.6 122.2l5.8 -5.8M299.6 118.2l5.8 5.8M299.6 124.0l5.8 -5.8M304.6 219.1l5.8 5.8M304.6 224.9l5.8 -5.8M309.6 317.1l5.8 5.8M309.6 322.9l5.8 -5.8M314.6 122.7l5.8 5.8M314.6 128.5l5.8 -5.8M319.6 119.1l5.8 5.8M319.6 124.9l5.8 -5.8M324.6 215.5l5.8 5.8M324.6 221.3l5.8 -5.8M329.6 311.3l5.8 5.8M329.6 317.1l5.8 -5.8M334.6 129.1l5.8 5.8M334.6 134.9l5.8 -5.8M339.6 68.4l5.8 5.8M339.6 74.2l5.8 -5.8M344.6 215.7l5.8 5.8M344.6 221.5l5.8 -5.8M349.6 328.5l5.8 5.8M349.6 334.3l5.8 -5.8M353.6 106.4l5.8 5.8M353.6 112.2l5.8 -5.8M358.6 84.6l5.8 5.8M358.6 90.4l5.8 -5.8M363.6 227.1l5.8 5.8M363.6 232.9l5.8 -5.8M368.6 311.1l5.8 5.8M368.6 316.9l5.8 -5.8M373.6 131.4l5.8 5.8M373.6 137.2l5.8 -5.8M378.6 83.1l5.8 5.8M378.6 88.9l5.8 -5.8M383.6 186.0l5.8 5.8M383.6 191.8l5.8 -5.8M388.6 343.6l5.8 5.8M388.6 349.4l5.8 -5.8M393.6 185.1l5.8 5.8M393.6 190.9l5.8 -5.8M398.6 175.7l5.8 5.8M398.6 181.5l5.8 -5.8M403.6 277.1l5.8 5.8M403.6 282.9l5.8 -5.8M408.6 329.6l5.8 5.8M408.6 335.4l5.8 -5.8M413.6 207.3l5.8 5.8M413.6 213.1l5.8 -5.8M418.6 112.9l5.8 5.8M418.6 118.7l5.8 -5.8M423.6 215.1l5.8 5.8M423.6 220.9l5.8 -5.8M428.6 309.9l5.8 5.8M428.6 315.7l5.8 -5.8M433.6 139.9l5.8 5.8M433.6 145.7l5.8 -5.8M438.6 143.6l5.8 5.8M438.6 149.4l5.8 -5.8M443.6 246.6l5.8 5.8M443.6 252.4l5.8 -5.8M448.6 322.9l5.8 5.8M448.6 328.7l5.8 -5.8M453.6 154.4l5.8 5.8M453.6 160.2l5.8 -5.8M458.6 100.1l5.8 5.8M458.6 105.9l5.8 -5.8M463.6 227.1l5.8 5.8M463.6 232.9l5.8 -5.8M468.6 311.3l5.8 5.8M468.6 317.1l5.8 -5.8M473.6 140.8l5.8 5.8M473.6 146.6l5.8 -5.8M478.6 78.3l5.8 5.8M478.6 84.1l5.8 -5.8M483.6 214.4l5.8 5.8M483.6 220.2l5.8 -5.8M488.6 312.6l5.8 5.8M488.6 318.4l5.8 -5.8M493.6 140.1l5.8 5.8M493.6 145.9l5.8 -5.8M498.6 81.1l5.8 5.8M498.6 86.9l5.8 -5.8M503.6 225.8l5.8 5.8M503.6 231.6l5.8 -5.8M508.6 321.6l5.8 5.8M508.6 327.4l5.8 -5.8M513.6 133.2l5.8 5.8M513.6 139.0l5.8 -5.8M518.6 89.2l5.8 5.8M518.6 95.0l5.8 -5.8M523.6 198.6l5.8 5.8M523.6 204.4l5.8 -5.8M528.6 322.5l5.8 5.8M528.6 328.3l5.8 -5.8M533.6 198.3l5.8 5.8M533.6 204.1l5.8 -5.8M538.6 177.9l5.8 5.8M538.6 183.7l5.8 -5.8M543.6 276.7l5.8 5.8M543.6 282.5l5.8 -5.8M548.6 333.0l5.8 5.8M548.6 338.8l5.8 -5.8M553.6 227.3l5.8 5.8M553.6 233.1l5.8 -5.8M558.6 151.1l5.8 5.8M558.6 156.9l5.8 -5.8M563.6 239.7l5.8 5.8M563.6 245.5l5.8 -5.8M568.6 324.9l5.8 5.8M568.6 330.7l5.8 -5.8M573.6 139.9l5.8 5.8M573.6 145.7l5.8 -5.8M578.6 128.3l5.8 5.8M578.6 134.1l5.8 -5.8M583.6 229.4l5.8 5.8M583.6 235.2l5.8 -5.8M588.6 310.5l5.8 5.8M588.6 316.3l5.8 -5.8M593.6 137.2l5.8 5.8M593.6 143.0l5.8 -5.8M598.6 96.1l5.8 5.8M598.6 101.9l5.8 -5.8M603.6 231.2l5.8 5.8M603.6 237.0l5.8 -5.8M608.6 318.1l5.8 5.8M608.6 323.9l5.8 -5.8M613.6 135.4l5.8 5.8M613.6 141.2l5.8 -5.8M618.6 101.9l5.8 5.8M618.6 107.7l5.8 -5.8M623.6 226.3l5.8 5.8M623.6 232.1l5.8 -5.8M628.6 297.5l5.8 5.8M628.6 303.3l5.8 -5.8M633.6 152.9l5.8 5.8M633.6 158.7l5.8 -5.8M638.6 113.1l5.8 5.8M638.6 118.9l5.8 -5.8M643.6 212.1l5.8 5.8M643.6 217.9l5.8 -5.8M648.6 300.5l5.8 5.8M648.6 306.3l5.8 -5.8M652.6 396.5l5.8 5.8M652.6 402.3l5.8 -5.8" fill="none" stroke="#d8074f" stroke-width="1.8"/>
</svg></body></html>
